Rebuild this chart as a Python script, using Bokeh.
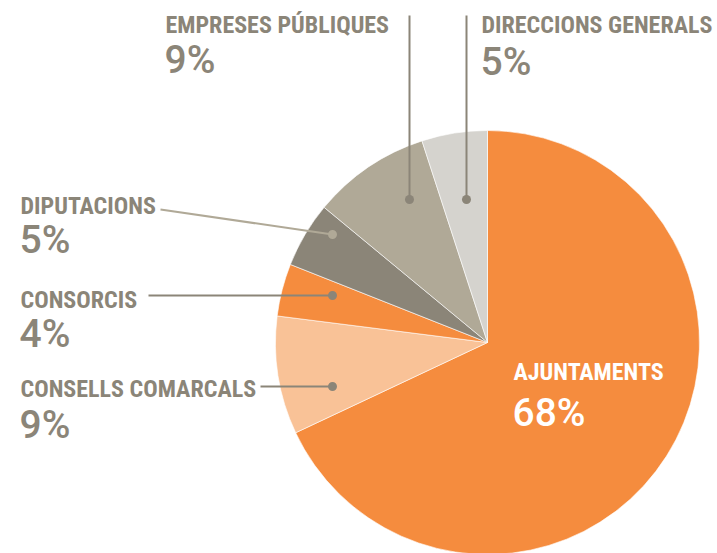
import math
from bokeh.plotting import figure
from bokeh.models import Range1d, ColumnDataSource
from bokeh.core.properties import value
from bokeh.embed import file_html
from bokeh.resources import INLINE

# ---- data ----
categories = ["AJUNTAMENTS", "CONSELLS COMARCALS", "CONSORCIS", "DIPUTACIONS",
              "EMPRESES PÚBLIQUES", "DIRECCIONS GENERALS"]
values = [68, 9, 4, 5, 9, 5]
colors = ["#F58C3E", "#F9C297", "#F58C3E", "#8B8578", "#B0A997", "#D5D3CE"]

W, H = 717, 553
TOP = H  # screen y -> data y (y up)

p = figure(width=W, height=H, output_backend="svg", toolbar_location=None,
           x_range=Range1d(0, W), y_range=Range1d(0, H), min_border=0)
p.axis.visible = False
p.grid.visible = False
p.outline_line_color = None
p.background_fill_color = "white"


def sy(y):
    return TOP - y


cx, cy, R = 487, sy(342), 212
total = sum(values)
starts, ends = [], []
a = math.pi / 2
for v in values:
    sweep = v / total * 2 * math.pi
    starts.append(a - sweep)
    ends.append(a)
    a -= sweep

src = ColumnDataSource(dict(start=starts, end=ends, color=colors,
                            x=[cx] * len(values), y=[cy] * len(values)))
p.wedge(x="x", y="y", radius=R, start_angle="start", end_angle="end",
        fill_color="color", line_color="white", line_width=0.6, source=src)

dark = "#8B8578"
light = "#B0A997"

leaders = [
    ([409, 409], [sy(15), sy(199)], dark, (409, sy(199))),      # empreses
    ([466, 466], [sy(15), sy(199)], dark, (466, sy(199))),      # direccions
    ([160, 332], [sy(209), sy(234)], light, (332, sy(234))),    # diputacions
    ([148, 332], [sy(295), sy(295)], dark, (332, sy(295))),     # consorcis
    ([260, 332], [sy(386), sy(386)], dark, (332, sy(386))),     # consells
]
for xs, ys, c, dot in leaders:
    p.line(xs, ys, line_color=c, line_width=2)
    p.scatter([dot[0]], [dot[1]], size=9, fill_color=c, line_color=None)

label_font = value("Roboto Condensed")
pct_font = value("Roboto Medium, Roboto")
labels = {
    "EMPRESES PÚBLIQUES": (165, 33, 73, dark),
    "DIRECCIONS GENERALS": (481, 33, 75, dark),
    "DIPUTACIONS": (20, 214, 253, dark),
    "CONSORCIS": (20, 308, 347, dark),
    "CONSELLS COMARCALS": (20, 397, 438, dark),
    "AJUNTAMENTS": (513, 380, 426, "white"),
}
for cat, v in zip(categories, values):
    x, y1, y2, c = labels[cat]
    p.text([x], [sy(y1 - 8.5)], text=[cat], text_font=label_font,
           text_font_style="bold", text_font_size="24px", text_color=c,
           text_baseline="alphabetic", text_align="left")
    p.text([x - 1], [sy(y2 - 13.5)], text=[f"{v}%"], text_font=pct_font,
           text_font_style="normal", text_font_size="39px", text_color=c,
           text_baseline="alphabetic", text_align="left")

open("out.html", "w").write(file_html(p, INLINE))
